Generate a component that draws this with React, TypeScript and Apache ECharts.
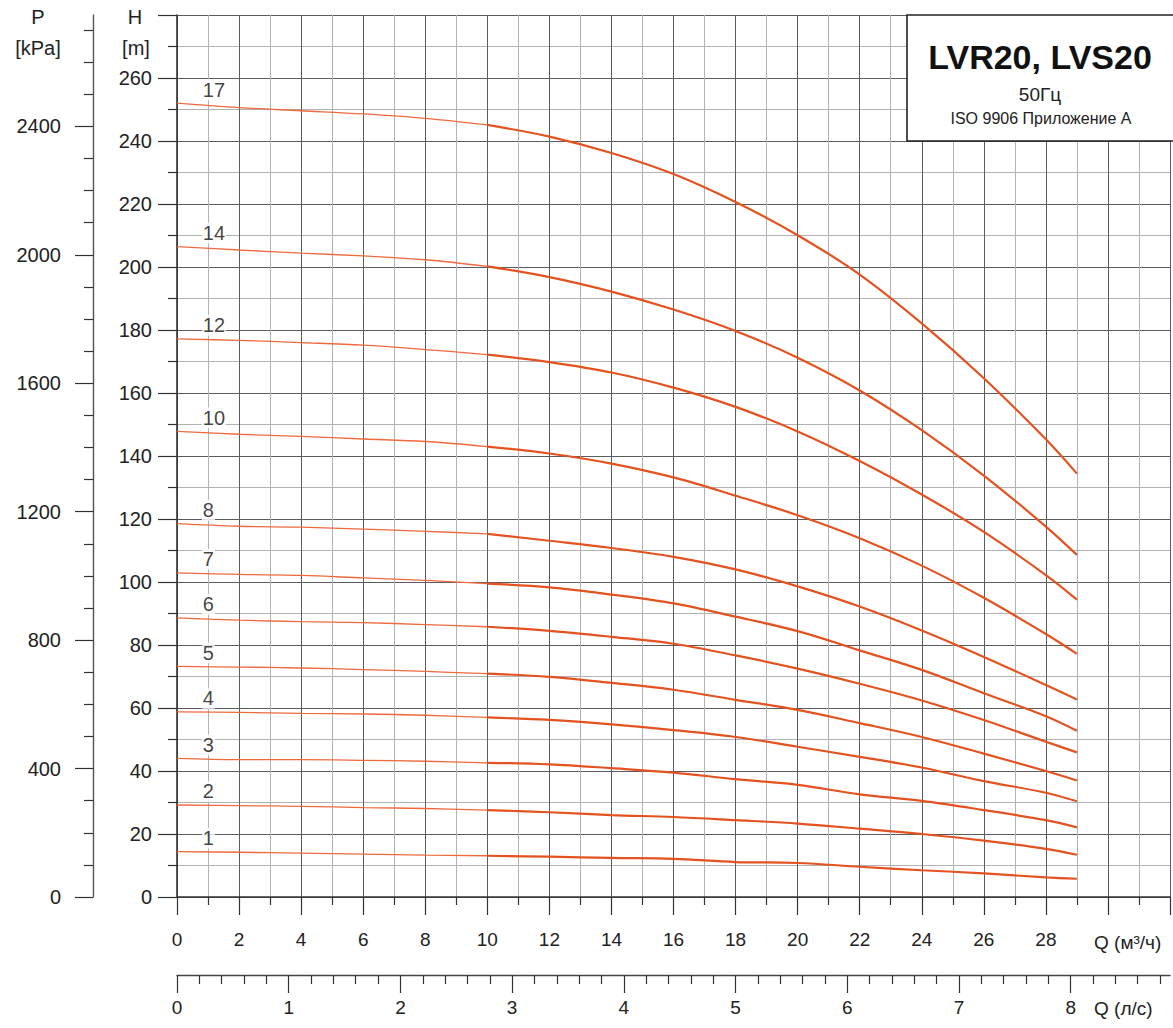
import React, { useEffect, useRef } from 'react';
import * as echarts from 'echarts';

// Flow rate sample points (m³/h)
const Q = [0, 2, 4, 6, 8, 10, 12, 14, 16, 18, 20, 22, 24, 26, 28, 29];

// Head (m) per number of stages
const H17 = [252.0, 250.6, 249.6, 248.6, 247.2, 245.1, 241.4, 236.2, 229.5, 220.6, 210.1, 197.6, 182.1, 164.7, 145.3, 134.4];
const H14 = [206.5, 205.4, 204.4, 203.5, 202.3, 200.2, 196.8, 192.2, 186.5, 179.7, 171.2, 160.8, 148.2, 133.8, 117.6, 108.6];
const H12 = [177.2, 176.7, 176.0, 175.2, 173.8, 172.2, 169.8, 166.5, 161.7, 155.6, 147.8, 138.4, 127.8, 115.9, 102.2, 94.4];
const H10 = [147.8, 146.9, 146.2, 145.4, 144.6, 143.0, 140.8, 137.6, 133.2, 127.4, 121.2, 113.9, 105.2, 95.0, 83.5, 77.2];
const H8 = [118.5, 117.7, 117.4, 116.8, 116.1, 115.3, 113.1, 110.8, 108.0, 104.0, 98.6, 92.2, 84.6, 76.2, 67.3, 62.7];
const H7 = [102.9, 102.4, 102.1, 101.3, 100.5, 99.5, 98.3, 96.0, 93.2, 89.0, 84.4, 78.3, 72.1, 64.7, 57.4, 52.8];
const H6 = [88.6, 87.9, 87.4, 87.1, 86.5, 85.8, 84.5, 82.6, 80.4, 76.7, 72.5, 67.7, 62.4, 56.2, 49.3, 45.9];
const H5 = [73.2, 73.0, 72.7, 72.2, 71.6, 70.9, 69.9, 68.0, 65.8, 62.6, 59.4, 55.2, 50.8, 45.5, 40.0, 37.0];
const H4 = [58.8, 58.6, 58.3, 58.1, 57.7, 57.0, 56.2, 54.8, 53.0, 50.8, 47.7, 44.5, 41.1, 36.8, 33.1, 30.4];
const H3 = [44.0, 43.6, 43.6, 43.4, 43.1, 42.6, 42.1, 40.9, 39.5, 37.4, 35.6, 32.6, 30.5, 27.6, 24.4, 22.1];
const H2 = [29.2, 29.0, 28.8, 28.4, 28.1, 27.6, 26.9, 26.0, 25.4, 24.4, 23.3, 21.7, 20.0, 17.9, 15.3, 13.4];
const H1 = [14.4, 14.2, 13.9, 13.6, 13.3, 13.1, 12.8, 12.4, 12.1, 11.1, 10.8, 9.6, 8.5, 7.5, 6.2, 5.8];

const STAGES = ['17', '14', '12', '10', '8', '7', '6', '5', '4', '3', '2', '1'];
const HEADS = [H17, H14, H12, H10, H8, H7, H6, H5, H4, H3, H2, H1];

// Axis tick labels
const P_LABELS = [0, 400, 800, 1200, 1600, 2000, 2400];
const P_MINOR = [100, 200, 300, 500, 600, 700, 900, 1000, 1100, 1300, 1400, 1500, 1700, 1800, 1900, 2100, 2200, 2300, 2500, 2600, 2700];
const QLS_LABELS = [0, 1, 2, 3, 4, 5, 6, 7, 8];

const TITLE = 'LVR20, LVS20';
const SUB1 = '50Гц';
const SUB2 = 'ISO 9906 Приложение А';

const FONT = '"Liberation Sans", Arial, Helvetica, sans-serif';
const H_MAX = 280;
const Q_MAX = 32;
const P_MAX = H_MAX * 9.81;
const QLS_MAX = Q_MAX / 3.6;
const SPLIT_Q = 10;

export default function App() {
  const ref = useRef<HTMLDivElement>(null);

  useEffect(() => {
    if (!ref.current) return;
    const chart = echarts.init(ref.current, undefined, { renderer: 'svg' });

    const qlsMinor: number[] = [];
    for (let i = 1; i <= 44; i++) {
      if (i % 5 !== 0) qlsMinor.push(+(i * 0.2).toFixed(1));
    }

    const series: any[] = [];
    HEADS.forEach((h, i) => {
      const pts = Q.map((q, j) => [q, h[j]]);
      series.push({
        type: 'line',
        name: STAGES[i] + '-a',
        data: pts.filter((p) => p[0] <= SPLIT_Q),
        smooth: 0.35,
        symbol: 'none',
        lineStyle: { color: '#ee6a3e', width: 1.3 },
        z: 5,
      });
      series.push({
        type: 'line',
        name: STAGES[i] + '-b',
        data: pts.filter((p) => p[0] >= SPLIT_Q),
        smooth: 0.35,
        symbol: 'none',
        lineStyle: { color: '#e4521f', width: 2.2 },
        z: 5,
      });
    });
    series.push({
      type: 'scatter',
      name: 'labels',
      data: HEADS.map((h, i) => [0.8, h[0] + 4.3, STAGES[i]]),
      symbolSize: 1,
      itemStyle: { color: 'rgba(0,0,0,0)' },
      label: {
        show: true,
        position: 'inside',
        align: 'left',
        verticalAlign: 'middle',
        formatter: (p: any) => p.value[2],
        fontSize: 20,
        fontFamily: FONT,
        color: '#111',
        backgroundColor: '#fff',
        padding: [1, 1, 0, 1],
      },
      z: 6,
    });

    const tickStyle = { color: '#333', width: 1.2 };
    const majorGrid = { color: '#5c5c5c', width: 1 };
    const minorGrid = { color: '#b2b2b2', width: 1 };

    chart.setOption({
      animation: false,
      backgroundColor: '#fff',
      textStyle: { fontFamily: FONT },
      grid: { left: 177, right: 0, top: 15, bottom: 131, containLabel: false },
      xAxis: [
        {
          type: 'value',
          min: 0,
          max: Q_MAX,
          interval: 2,
          position: 'bottom',
          axisLine: { show: true, onZero: false, lineStyle: { color: '#333', width: 1.6 } },
          axisTick: { show: true, length: 18, lineStyle: tickStyle },
          minorTick: { show: true, splitNumber: 2, length: 8, lineStyle: tickStyle },
          splitLine: { show: true, lineStyle: majorGrid },
          minorSplitLine: { show: true, lineStyle: minorGrid },
          axisLabel: {
            formatter: (v: number) => (v <= 28 ? String(v) : ''),
            margin: 33,
            fontSize: 19,
            color: '#222',
            fontFamily: FONT,
          },
        },
        {
          type: 'value',
          min: 0,
          max: QLS_MAX,
          position: 'bottom',
          offset: 78,
          axisLine: { show: true, onZero: false, lineStyle: { color: '#444', width: 1.4 } },
          axisTick: { show: true, length: 18, customValues: QLS_LABELS, lineStyle: tickStyle },
          axisLabel: {
            show: true,
            customValues: QLS_LABELS,
            formatter: (v: number) => String(v),
            margin: 23,
            fontSize: 19,
            color: '#222',
            fontFamily: FONT,
          },
          splitLine: { show: false },
        },
        {
          type: 'value',
          min: 0,
          max: QLS_MAX,
          position: 'bottom',
          offset: 78,
          axisLine: { show: false, onZero: false },
          axisTick: { show: true, length: 9, customValues: qlsMinor, lineStyle: tickStyle },
          axisLabel: { show: false },
          splitLine: { show: false },
        },
      ],
      yAxis: [
        {
          type: 'value',
          min: 0,
          max: H_MAX,
          interval: 20,
          position: 'left',
          axisLine: { show: true, onZero: false, lineStyle: { color: '#333', width: 1.6 } },
          axisTick: { show: true, length: 19, lineStyle: tickStyle },
          minorTick: { show: true, splitNumber: 2, length: 9, lineStyle: tickStyle },
          splitLine: { show: true, lineStyle: majorGrid },
          minorSplitLine: { show: true, lineStyle: minorGrid },
          axisLabel: {
            formatter: (v: number) => (v >= H_MAX ? '' : String(v)),
            margin: 25,
            fontSize: 20,
            color: '#222',
            fontFamily: FONT,
          },
        },
        {
          type: 'value',
          min: 0,
          max: P_MAX,
          position: 'left',
          offset: 84,
          axisLine: { show: true, onZero: false, lineStyle: { color: '#555', width: 1.4 } },
          axisTick: { show: true, length: 18, customValues: P_LABELS, lineStyle: tickStyle },
          axisLabel: {
            show: true,
            customValues: P_LABELS,
            formatter: (v: number) => String(v),
            margin: 32,
            fontSize: 20,
            color: '#222',
            fontFamily: FONT,
          },
          splitLine: { show: false },
        },
        {
          type: 'value',
          min: 0,
          max: P_MAX,
          position: 'left',
          offset: 84,
          axisLine: { show: false, onZero: false },
          axisTick: { show: true, length: 9, customValues: P_MINOR, lineStyle: tickStyle },
          axisLabel: { show: false },
          splitLine: { show: false },
        },
      ],
      graphic: [
        { type: 'text', x: 38, y: 17, style: { text: 'P', fontSize: 20, fontFamily: FONT, fill: '#222', align: 'center', verticalAlign: 'middle' } },
        { type: 'text', x: 38, y: 48, style: { text: '[kPa]', fontSize: 20, fontFamily: FONT, fill: '#222', align: 'center', verticalAlign: 'middle' } },
        { type: 'text', x: 135, y: 17, style: { text: 'H', fontSize: 20, fontFamily: FONT, fill: '#222', align: 'center', verticalAlign: 'middle' } },
        { type: 'text', x: 136, y: 48, style: { text: '[m]', fontSize: 20, fontFamily: FONT, fill: '#222', align: 'center', verticalAlign: 'middle' } },
        { type: 'text', x: 1094, y: 942, style: { text: 'Q (м³/ч)', fontSize: 19, fontFamily: FONT, fill: '#222', align: 'left', verticalAlign: 'middle' } },
        { type: 'text', x: 1094, y: 1008, style: { text: 'Q (л/с)', fontSize: 19, fontFamily: FONT, fill: '#222', align: 'left', verticalAlign: 'middle' } },
        {
          type: 'rect',
          z: 100,
          shape: { x: 907, y: 15, width: 280, height: 126 },
          style: { fill: '#fff', stroke: '#222', lineWidth: 1.6 },
        },
        { type: 'text', z: 101, x: 1040, y: 57, style: { text: TITLE, fontSize: 34, fontWeight: 'bold', fontFamily: FONT, fill: '#111', align: 'center', verticalAlign: 'middle' } },
        { type: 'text', z: 101, x: 1040, y: 94, style: { text: SUB1, fontSize: 19, fontFamily: FONT, fill: '#222', align: 'center', verticalAlign: 'middle' } },
        { type: 'text', z: 101, x: 1041, y: 118, style: { text: SUB2, fontSize: 16, fontFamily: FONT, fill: '#222', align: 'center', verticalAlign: 'middle' } },
      ],
      series,
    });

    return () => chart.dispose();
  }, []);

  return (
    <div
      ref={ref}
      style={{ position: 'absolute', left: 0, top: 0, width: 1173, height: 1028, background: '#fff' }}
    />
  );
}
